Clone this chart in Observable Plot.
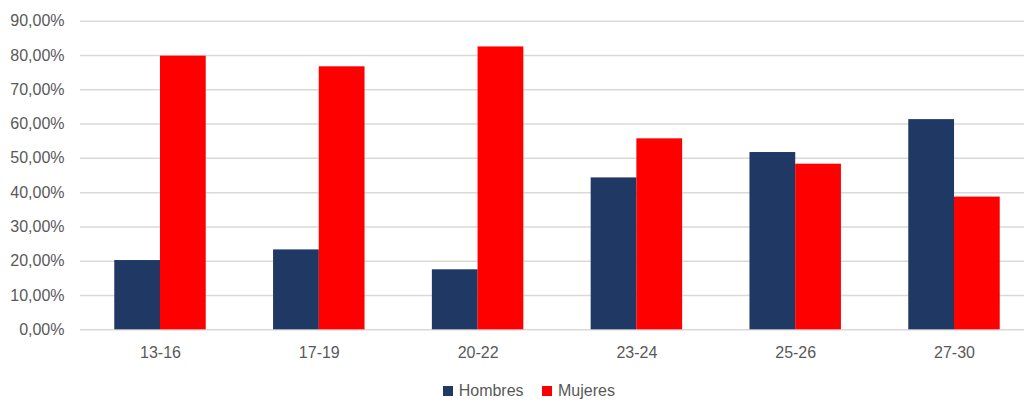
<!DOCTYPE html>
<html>
<head>
<meta charset="utf-8">
<script src="https://cdn.jsdelivr.net/npm/d3@7"></script>
<script src="https://cdn.jsdelivr.net/npm/@observablehq/plot@0.6"></script>
<style>
  html, body { margin: 0; padding: 0; background: #fff; overflow: hidden; }
  #chart svg { display: block; }
  #legend { height: 31px; position: relative; font-family: "Liberation Sans", Arial, sans-serif; font-size: 16px; color: #595959; }
  .item { position: absolute; top: 10px; display: flex; align-items: center; }
  .sw { width: 10px; height: 10px; margin-right: 6px; }
</style>
</head>
<body>
<div id="chart"></div>
<div id="legend"></div>
<script>
const categories = ["13-16", "17-19", "20-22", "23-24", "25-26", "27-30"];
const hombres = [0.202, 0.233, 0.175, 0.443, 0.517, 0.613];
const mujeres = [0.798, 0.767, 0.825, 0.557, 0.483, 0.387];
const seriesNames = ["Hombres", "Mujeres"];
const seriesColors = ["#203864", "#ff0000"];
const yTicks = [0, 0.1, 0.2, 0.3, 0.4, 0.5, 0.6, 0.7, 0.8, 0.9];

const rows = [];
categories.forEach((c, i) => {
  rows.push({cat: c, serie: "Hombres", value: hombres[i]});
  rows.push({cat: c, serie: "Mujeres", value: mujeres[i]});
});

const es = d3.formatLocale({decimal: ",", thousands: ".", grouping: [3], currency: ["", " €"]});
const pct = es.format(".2%");

const W = 1024, H = 372;
const bandW = 45.7;

const chart = Plot.plot({
  width: W,
  height: H,
  marginLeft: 80,
  marginRight: 0,
  marginTop: 20.7,
  marginBottom: 42.7,
  style: {fontFamily: "'Liberation Sans', Arial, sans-serif", fontSize: "16px", color: "#595959", background: "#fff"},
  x: {domain: categories, range: [80.6, 1033.4], paddingInner: 0.424, paddingOuter: 0.212, round: false, label: null},
  y: {domain: [0, 0.9], label: null},
  color: {domain: seriesNames, range: seriesColors},
  marks: [
    Plot.ruleY(yTicks, {stroke: "#d9d9d9", strokeWidth: 1.5}),
    Plot.barY(rows.filter(d => d.serie === "Hombres"), {x: "cat", y: "value", fill: "serie", insetRight: bandW}),
    Plot.barY(rows.filter(d => d.serie === "Mujeres"), {x: "cat", y: "value", fill: "serie", insetLeft: bandW}),
    Plot.axisY(yTicks, {tickSize: 0, tickPadding: 16, tickFormat: pct, fill: "#595959", fontSize: 16}),
    Plot.axisX({tickSize: 0, tickPadding: 17, fill: "#595959", fontSize: 16})
  ]
});
document.getElementById("chart").appendChild(chart);

const legend = document.getElementById("legend");
const lefts = [442.7, 542];
seriesNames.forEach((n, i) => {
  const it = document.createElement("div");
  it.className = "item";
  it.style.left = lefts[i] + "px";
  it.innerHTML = `<span class="sw" style="background:${seriesColors[i]}"></span><span>${n}</span>`;
  legend.appendChild(it);
});
</script>
</body>
</html>
